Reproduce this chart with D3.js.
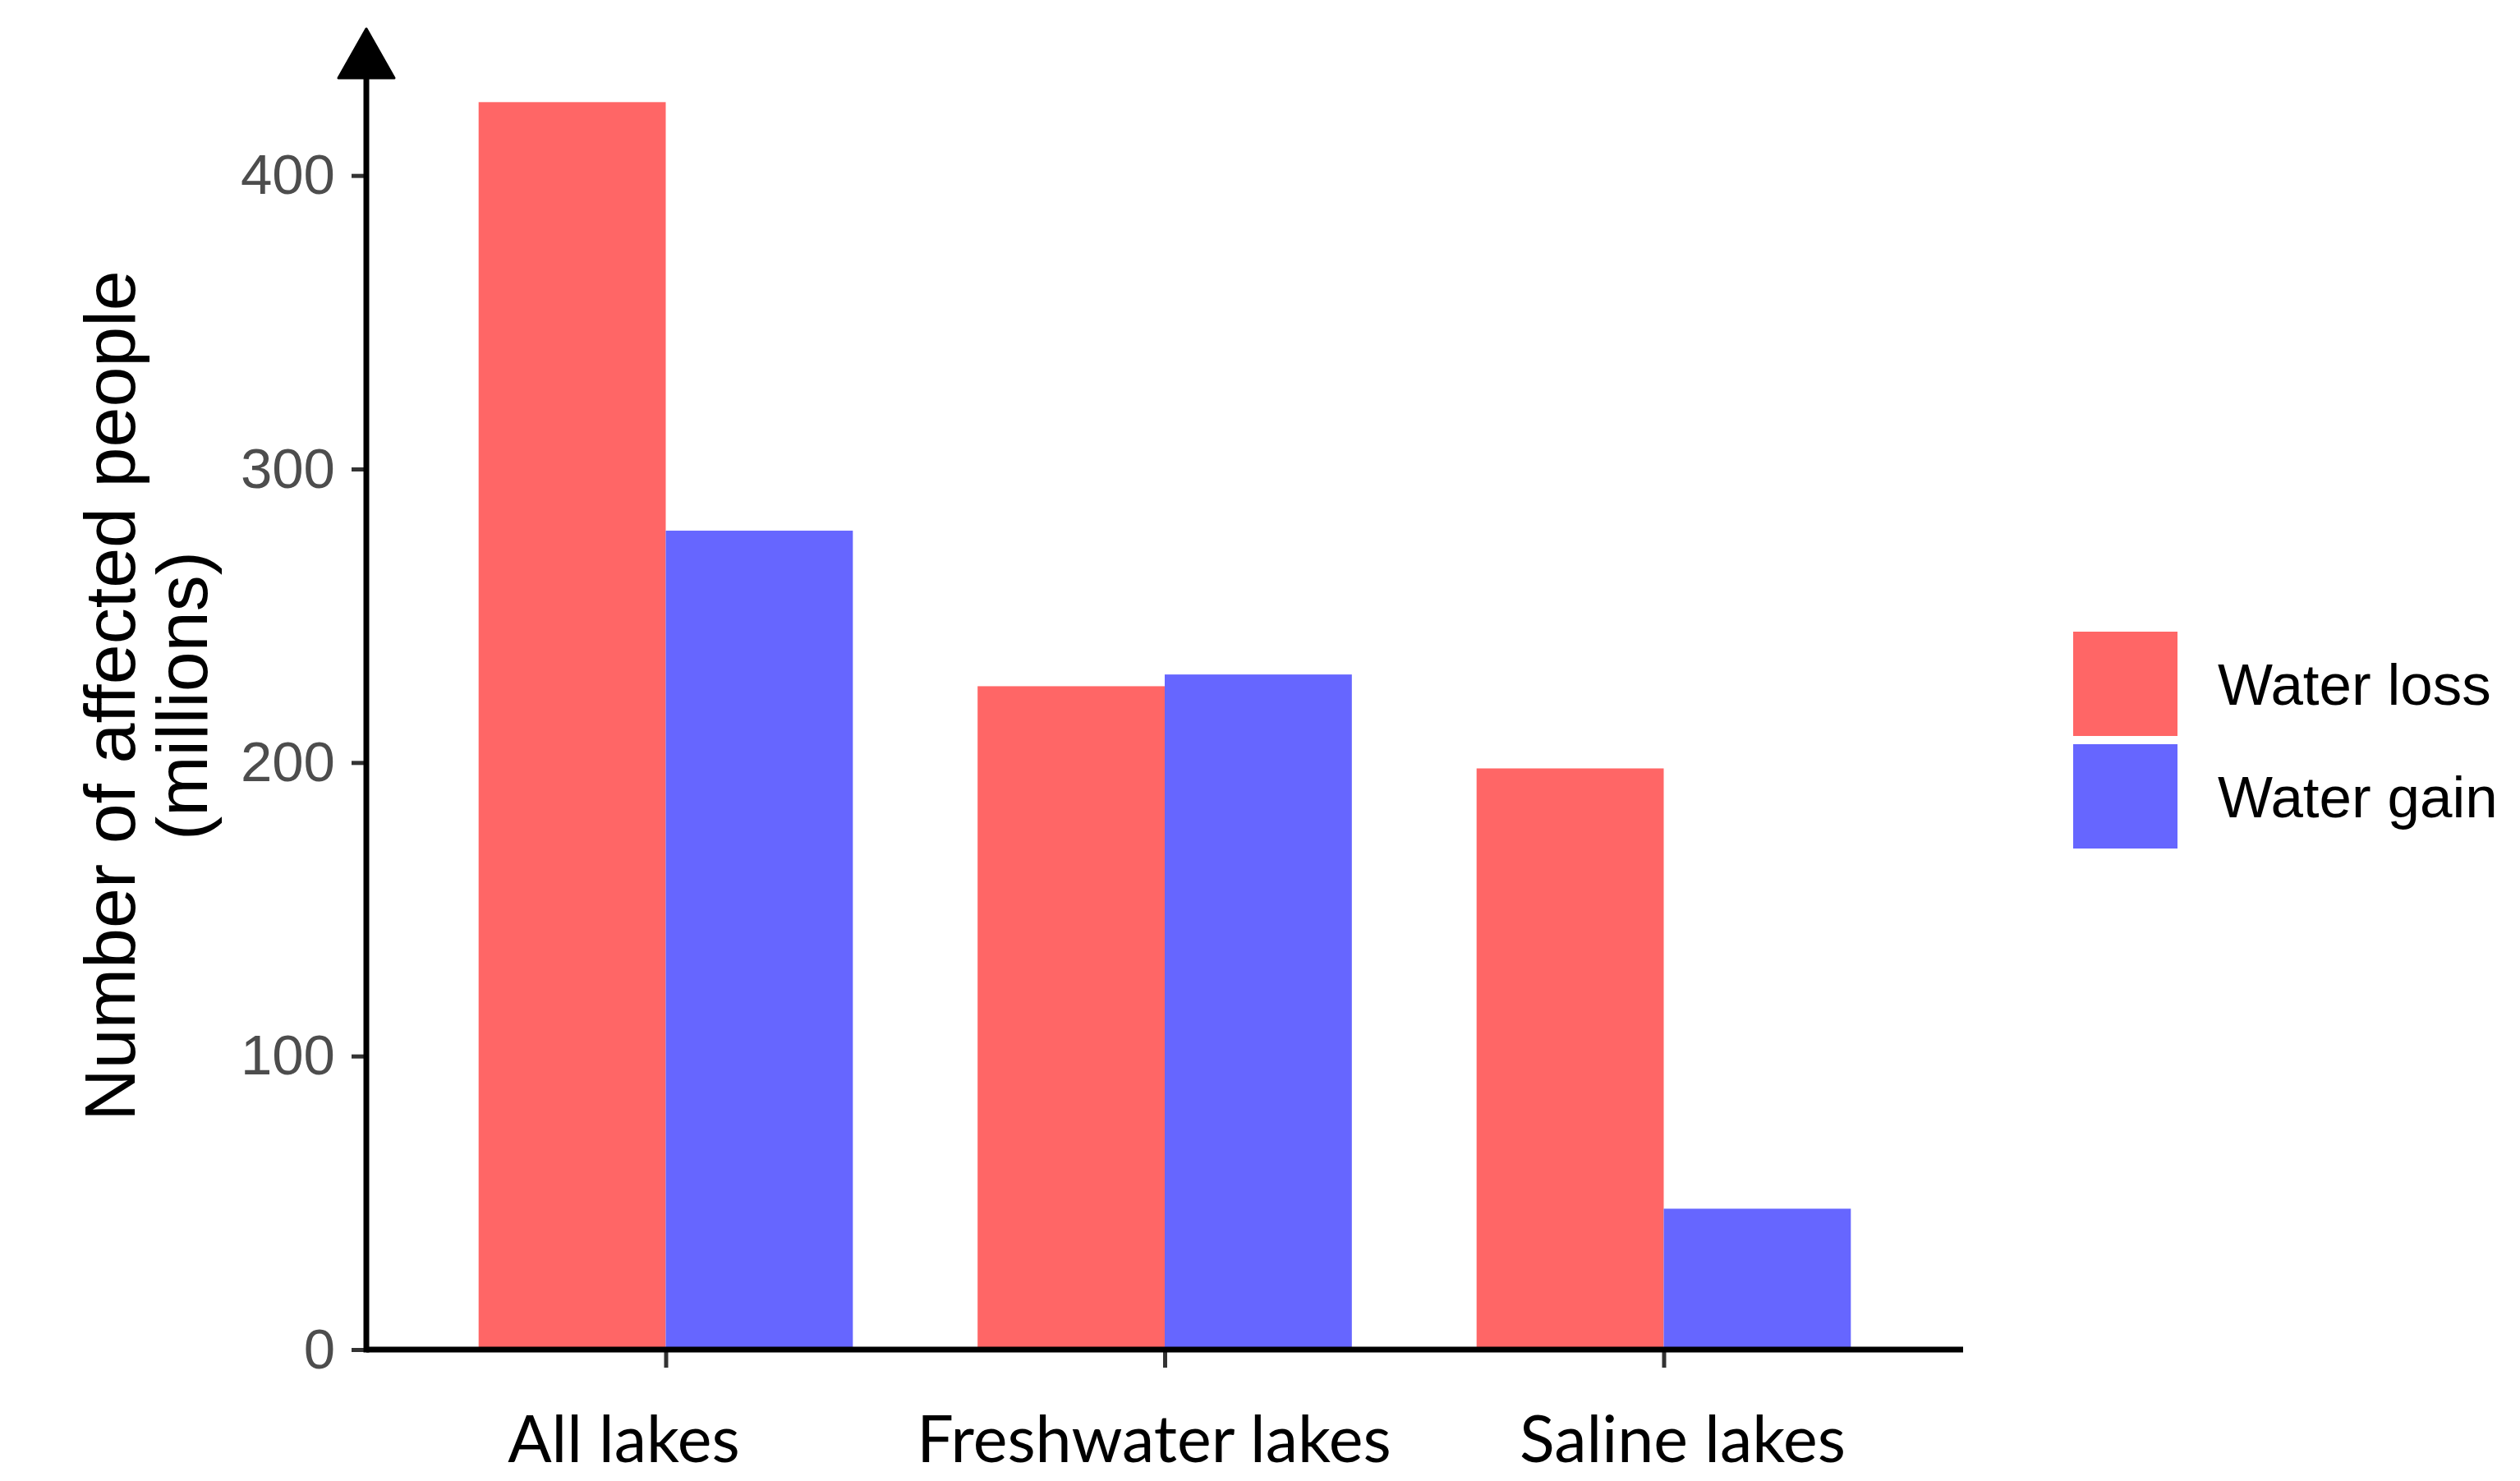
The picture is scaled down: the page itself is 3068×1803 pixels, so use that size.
<!DOCTYPE html>
<html>
<head>
<meta charset="utf-8">
<script src="https://cdn.jsdelivr.net/npm/d3@7"></script>
<style>
  html, body { margin: 0; padding: 0; background: #ffffff; }
  svg { display: block; }
</style>
</head>
<body>
<svg id="chart" width="3068" height="1803"></svg>
<script>
// ---- data ----
const categories = ["All lakes", "Freshwater lakes", "Saline lakes"];
const seriesNames = ["Water loss", "Water gain"];
const waterLoss = [425, 226, 198];
const waterGain = [279, 230, 48];
const yTicks = [0, 100, 200, 300, 400];
const yTitleLines = ["Number of affected people", "(millions)"];

// ---- layout / style ----
const W = 3068, H = 1803;
const axisX0 = 446, axisX1 = 2390;
const baseY = 1643, topY = 35;
const colors = ["#FF6666", "#6666FF"];
const labelShift = [-51, -13, 23];

const svg = d3.select("#chart");

const x = d3.scalePoint().domain(categories).range([axisX0, axisX1]).padding(0.6);
const y = d3.scaleLinear().domain([0, 450]).range([baseY, topY]);
const barW = x.step() * 0.375;
const xs = d3.scaleBand().domain(seriesNames).range([-barW, barW]).padding(0);

const rows = categories.map((c, i) => ({ cat: c, vals: [waterLoss[i], waterGain[i]] }));

// bars
const g = svg.append("g");
rows.forEach(r => {
  g.selectAll(null)
    .data(r.vals.map((v, j) => ({ v, s: seriesNames[j], j })))
    .enter().append("rect")
    .attr("x", d => x(r.cat) + xs(d.s))
    .attr("width", xs.bandwidth())
    .attr("y", d => y(d.v))
    .attr("height", d => baseY - y(d.v))
    .attr("fill", d => colors[d.j]);
});

// y axis
const yAxis = d3.axisLeft(y).tickValues(yTicks).tickSize(18).tickPadding(20).tickSizeOuter(0);
const yg = svg.append("g").attr("transform", `translate(${axisX0},0)`).call(yAxis);
yg.select(".domain").remove();
yg.selectAll(".tick line").attr("stroke", "#333333").attr("stroke-width", 5);
yg.selectAll(".tick text")
  .attr("font-family", "'Liberation Sans', Arial, sans-serif")
  .attr("font-size", 69).attr("fill", "#4d4d4d");

// x axis
const xAxis = d3.axisBottom(x).tickSize(22).tickSizeOuter(0).tickFormat("");
const xg = svg.append("g").attr("transform", `translate(0,${baseY})`).call(xAxis);
xg.select(".domain").remove();
xg.selectAll(".tick line").attr("stroke", "#333333").attr("stroke-width", 5);

// axis lines
svg.append("line").attr("x1", axisX0).attr("x2", axisX1).attr("y1", baseY).attr("y2", baseY)
  .attr("stroke", "#000").attr("stroke-width", 7);
svg.append("line").attr("x1", axisX0).attr("x2", axisX0).attr("y1", baseY + 3.5).attr("y2", topY + 50)
  .attr("stroke", "#000").attr("stroke-width", 7);
// arrow head
svg.append("path")
  .attr("d", `M${axisX0},${topY} L${axisX0 - 34},${topY + 60} L${axisX0 + 34},${topY + 60} Z`)
  .attr("fill", "#000").attr("stroke", "#000").attr("stroke-width", 3).attr("stroke-linejoin", "round");

// x category labels
svg.append("g").selectAll("text").data(categories).enter().append("text")
  .attr("x", (d, i) => x(d) + labelShift[i])
  .attr("y", 1780)
  .attr("text-anchor", "middle")
  .attr("font-family", "Lato, 'Open Sans', sans-serif")
  .attr("font-size", 79)
  .attr("fill", "#000")
  .text(d => d);

// y title
const yt = svg.append("g").attr("transform", "translate(0,847) rotate(-90)");
yt.selectAll("text").data(yTitleLines).enter().append("text")
  .attr("x", 0)
  .attr("y", (d, i) => i === 0 ? 164 : 252)
  .attr("text-anchor", "middle")
  .attr("font-family", "'Liberation Sans', Arial, sans-serif")
  .attr("font-size", 88)
  .attr("fill", "#000")
  .text(d => d);

// legend
const lg = svg.append("g").attr("transform", "translate(2524,769)");
const keySize = 127, keyGap = 10;
const li = lg.selectAll("g").data(seriesNames).enter().append("g")
  .attr("transform", (d, i) => `translate(0,${i * (keySize + keyGap)})`);
li.append("rect").attr("width", keySize).attr("height", keySize).attr("fill", (d, i) => colors[i]);
li.append("text")
  .attr("x", 176).attr("y", keySize / 2).attr("dy", "0.36em")
  .attr("font-family", "'Liberation Sans', Arial, sans-serif")
  .attr("font-size", 71)
  .attr("fill", "#000")
  .text(d => d);
</script>
</body>
</html>
